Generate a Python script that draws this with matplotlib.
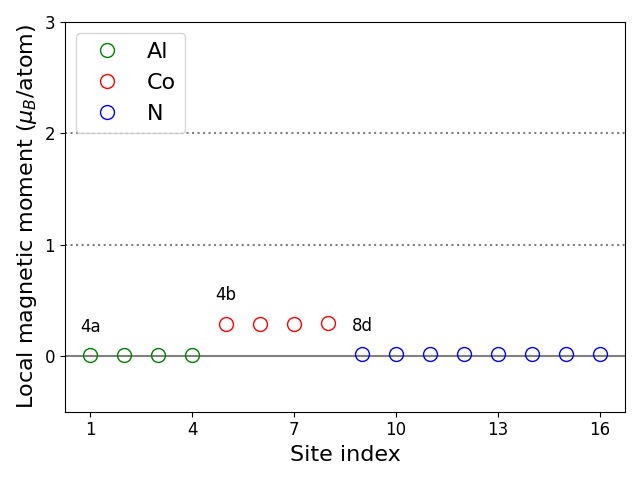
import matplotlib.pyplot as plt
import numpy as np

sites_al = [1, 2, 3, 4]
mom_al = [0.005, 0.005, 0.005, 0.005]
sites_co = [5, 6, 7, 8]
mom_co = [0.29, 0.285, 0.29, 0.295]
sites_n = [9, 10, 11, 12, 13, 14, 15, 16]
mom_n = [0.02, 0.02, 0.02, 0.02, 0.02, 0.02, 0.02, 0.02]

wyckoff = ['4a', '4b', '8d']
wyckoff_x = [1, 5, 9]
wyckoff_y = [0.26, 0.55, 0.27]

fig, ax = plt.subplots(figsize=(6.4, 4.8))
ax.axhline(0, color='grey', lw=1.5)
ax.axhline(1, color='grey', ls=':', lw=1.5)
ax.axhline(2, color='grey', ls=':', lw=1.5)

ax.plot(sites_al, mom_al, 'o', mfc='none', mec='green', ms=10, label='Al')
ax.plot(sites_co, mom_co, 'o', mfc='none', mec='red', ms=10, label='Co')
ax.plot(sites_n, mom_n, 'o', mfc='none', mec='blue', ms=10, label='N')

for t, x, y in zip(wyckoff, wyckoff_x, wyckoff_y):
    ax.text(x, y, t, ha='center', va='center', fontsize=12)

ax.set_xlim(0.25, 16.75)
ax.set_ylim(-0.5, 3)
ax.set_xticks([1, 4, 7, 10, 13, 16])
ax.set_yticks([0, 1, 2, 3])
ax.tick_params(labelsize=12)
ax.set_xlabel('Site index', fontsize=16)
ax.set_ylabel(r'Local magnetic moment ($\mu_B$/atom)', fontsize=16)
ax.legend(loc='upper left', fontsize=16)

plt.tight_layout()
plt.savefig('out.png', dpi=100)
